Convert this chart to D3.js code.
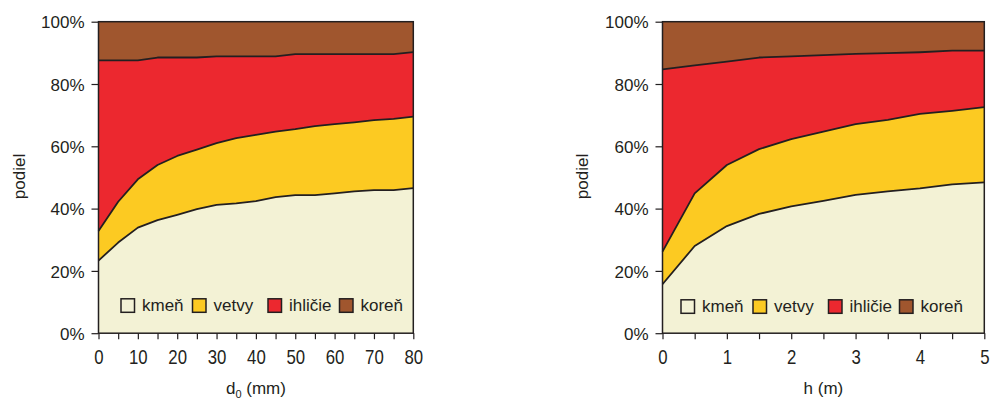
<!DOCTYPE html>
<html>
<head>
<meta charset="utf-8">
<script src="https://cdn.jsdelivr.net/npm/d3@7"></script>
<style>
    html, body { margin: 0; padding: 0; background: #fff; }
    svg text { font-family: "Liberation Sans", Arial, sans-serif; fill: #231f20; }
</style>
</head>
<body>
<div id="chart"></div>
<script>
// Components (bottom to top) and their colours
const parts = ['kmeň', 'vetvy', 'ihličie', 'koreň'];
const partColors = ['#f3f2d5', '#fcca22', '#ec282f', '#a0562e'];

// Panel 1: share by stem base diameter d0 (mm)
const d0Values = [0, 5, 10, 15, 20, 25, 30, 35, 40, 45, 50, 55, 60, 65, 70, 75, 80];
const d0Kmen    = [23.3, 29.1, 33.9, 36.3, 38.0, 39.8, 41.2, 41.7, 42.4, 43.7, 44.3, 44.3, 44.9, 45.5, 45.9, 45.9, 46.6];
const d0Vetvy   = [9.5, 13.1, 15.5, 17.7, 18.9, 19.1, 19.8, 20.9, 21.3, 21.0, 21.2, 22.2, 22.2, 22.2, 22.5, 22.9, 22.9];
const d0Ihlicie = [54.8, 45.4, 38.2, 34.5, 31.6, 29.6, 27.9, 26.3, 25.2, 24.2, 24.1, 23.1, 22.5, 21.9, 21.2, 20.8, 20.7];
const d0Koren   = [12.4, 12.4, 12.4, 11.5, 11.5, 11.5, 11.1, 11.1, 11.1, 11.1, 10.4, 10.4, 10.4, 10.4, 10.4, 10.4, 9.8];
const d0Ticks = [0, 5, 10, 15, 20, 25, 30, 35, 40, 45, 50, 55, 60, 65, 70, 75, 80];
const d0Labels = [0, 10, 20, 30, 40, 50, 60, 70, 80];

// Panel 2: share by tree height h (m)
const hValues = [0, 0.5, 1, 1.5, 2, 2.5, 3, 3.5, 4, 4.5, 5];
const hKmen    = [15.7, 28.0, 34.4, 38.3, 40.7, 42.5, 44.4, 45.5, 46.5, 47.8, 48.4];
const hVetvy   = [10.5, 16.9, 19.6, 20.8, 21.6, 22.2, 22.7, 23.0, 23.9, 23.6, 24.2];
const hIhlicie = [58.5, 41.1, 33.2, 29.4, 26.6, 24.6, 22.6, 21.4, 19.8, 19.3, 18.1];
const hKoren   = [15.3, 14.0, 12.8, 11.5, 11.1, 10.7, 10.3, 10.1, 9.8, 9.3, 9.3];
const hTicks = [0, 0.5, 1, 1.5, 2, 2.5, 3, 3.5, 4, 4.5, 5];
const hLabels = [0, 1, 2, 3, 4, 5];

const yTicks = [0, 20, 40, 60, 80, 100];

const width = 991, height = 400;
const ink = '#231f20';

const svg = d3.select('#chart')
    .append('svg')
    .attr('width', width)
    .attr('height', height);

/**
 * Draw one stacked share panel.
 */
function drawPanel(cfg) {
    const rows = cfg.xs.map((x, i) => ({
        x: x,
        'kmeň': cfg.series[0][i],
        'vetvy': cfg.series[1][i],
        'ihličie': cfg.series[2][i],
        'koreň': cfg.series[3][i]
    }));

    const x = d3.scaleLinear()
        .domain(d3.extent(cfg.xs))
        .range([cfg.left, cfg.right]);
    const y = d3.scaleLinear()
        .domain([0, 100])
        .range([333.2, 21.7]);

    const stacked = d3.stack().keys(parts)(rows);

    const g = svg.append('g');

    const area = d3.area()
        .x(d => x(d.data.x))
        .y0(d => y(d[0]))
        .y1(d => y(d[1]));

    g.selectAll('path.layer')
        .data(stacked)
        .join('path')
        .attr('class', 'layer')
        .attr('fill', (d, i) => partColors[i])
        .attr('d', area);

    // boundary lines between layers
    const line = d3.line()
        .x(d => x(d.data.x))
        .y(d => y(d[1]));

    g.selectAll('path.edge')
        .data(stacked.slice(0, 3))
        .join('path')
        .attr('class', 'edge')
        .attr('fill', 'none')
        .attr('stroke', ink)
        .attr('stroke-width', 1.8)
        .attr('stroke-linejoin', 'round')
        .attr('d', line);

    // frame
    g.append('rect')
        .attr('x', cfg.left)
        .attr('y', y(100))
        .attr('width', cfg.right - cfg.left)
        .attr('height', y(0) - y(100))
        .attr('fill', 'none')
        .attr('stroke', ink)
        .attr('stroke-width', 1.5);

    // y axis
    const yAxis = g.append('g')
        .attr('transform', `translate(${cfg.left},0)`)
        .call(d3.axisLeft(y).tickValues(yTicks).tickSize(7).tickPadding(7).tickFormat(d => d + '%'));
    yAxis.select('.domain').remove();
    yAxis.selectAll('line').attr('stroke', ink).attr('stroke-width', 1.2);
    yAxis.selectAll('text')
        .attr('font-size', 17)
        .attr('font-family', '"Liberation Sans", Arial, sans-serif')
        .attr('fill', ink)
        .attr('dy', '0.36em');

    // x axis: ticks
    const xAxis = g.append('g')
        .attr('transform', `translate(0,${y(0)})`)
        .call(d3.axisBottom(x).tickValues(cfg.ticks).tickSize(6).tickFormat(''));
    xAxis.select('.domain').remove();
    xAxis.selectAll('line').attr('stroke', ink).attr('stroke-width', 1.2);

    // x axis: labels
    const xLab = g.append('g')
        .attr('transform', `translate(0,${y(0)})`)
        .call(d3.axisBottom(x).tickValues(cfg.labels).tickSize(0).tickPadding(17).tickFormat(d => String(d)));
    xLab.select('.domain').remove();
    xLab.selectAll('text')
        .attr('font-size', 20)
        .attr('font-family', '"Liberation Sans", Arial, sans-serif')
        .attr('fill', ink)
        .attr('transform', 'scale(0.84,1)');
    xLab.selectAll('.tick').each(function() {
        const t = d3.select(this);
        const tr = t.attr('transform');
        const tx = +tr.match(/translate\(([-\d.]+)/)[1];
        t.attr('transform', `translate(${tx},0)`);
        t.select('text').attr('x', 0).attr('transform', 'scale(0.84,1)');
    });

    // y title
    g.append('text')
        .attr('transform', `translate(${cfg.yTitleX},176.5) rotate(-90)`)
        .attr('text-anchor', 'middle')
        .attr('font-size', 17)
        .text('podiel');

    // x title
    const xt = g.append('text')
        .attr('x', (cfg.left + cfg.right) / 2)
        .attr('y', 394)
        .attr('text-anchor', 'middle')
        .attr('font-size', 17);
    cfg.xTitle(xt);

    // legend
    const lg = g.append('g');
    parts.forEach((p, i) => {
        lg.append('rect')
            .attr('x', cfg.legendX[i])
            .attr('y', cfg.legendY)
            .attr('width', 13.5)
            .attr('height', 13.5)
            .attr('fill', partColors[i])
            .attr('stroke', ink)
            .attr('stroke-width', 1.5);
        lg.append('text')
            .attr('x', cfg.legendX[i] + 21)
            .attr('y', cfg.legendY + 12.5)
            .attr('font-size', 17)
            .text(p);
    });
}

drawPanel({
    xs: d0Values,
    series: [d0Kmen, d0Vetvy, d0Ihlicie, d0Koren],
    left: 98.5,
    right: 413.3,
    ticks: d0Ticks,
    labels: d0Labels,
    yTitleX: 25,
    legendX: [121, 192.5, 268, 339.5],
    legendY: 298.8,
    xTitle: t => {
        t.append('tspan').text('d');
        t.append('tspan').attr('font-size', 11).attr('dy', 4).text('0');
        t.append('tspan').attr('dy', -4).text(' (mm)');
    }
});

drawPanel({
    xs: hValues,
    series: [hKmen, hVetvy, hIhlicie, hKoren],
    left: 662.5,
    right: 984.3,
    ticks: hTicks,
    labels: hLabels,
    yTitleX: 588,
    legendX: [681, 753, 828.5, 899.5],
    legendY: 299.8,
    xTitle: t => t.text('h (m)')
});
</script>
</body>
</html>
